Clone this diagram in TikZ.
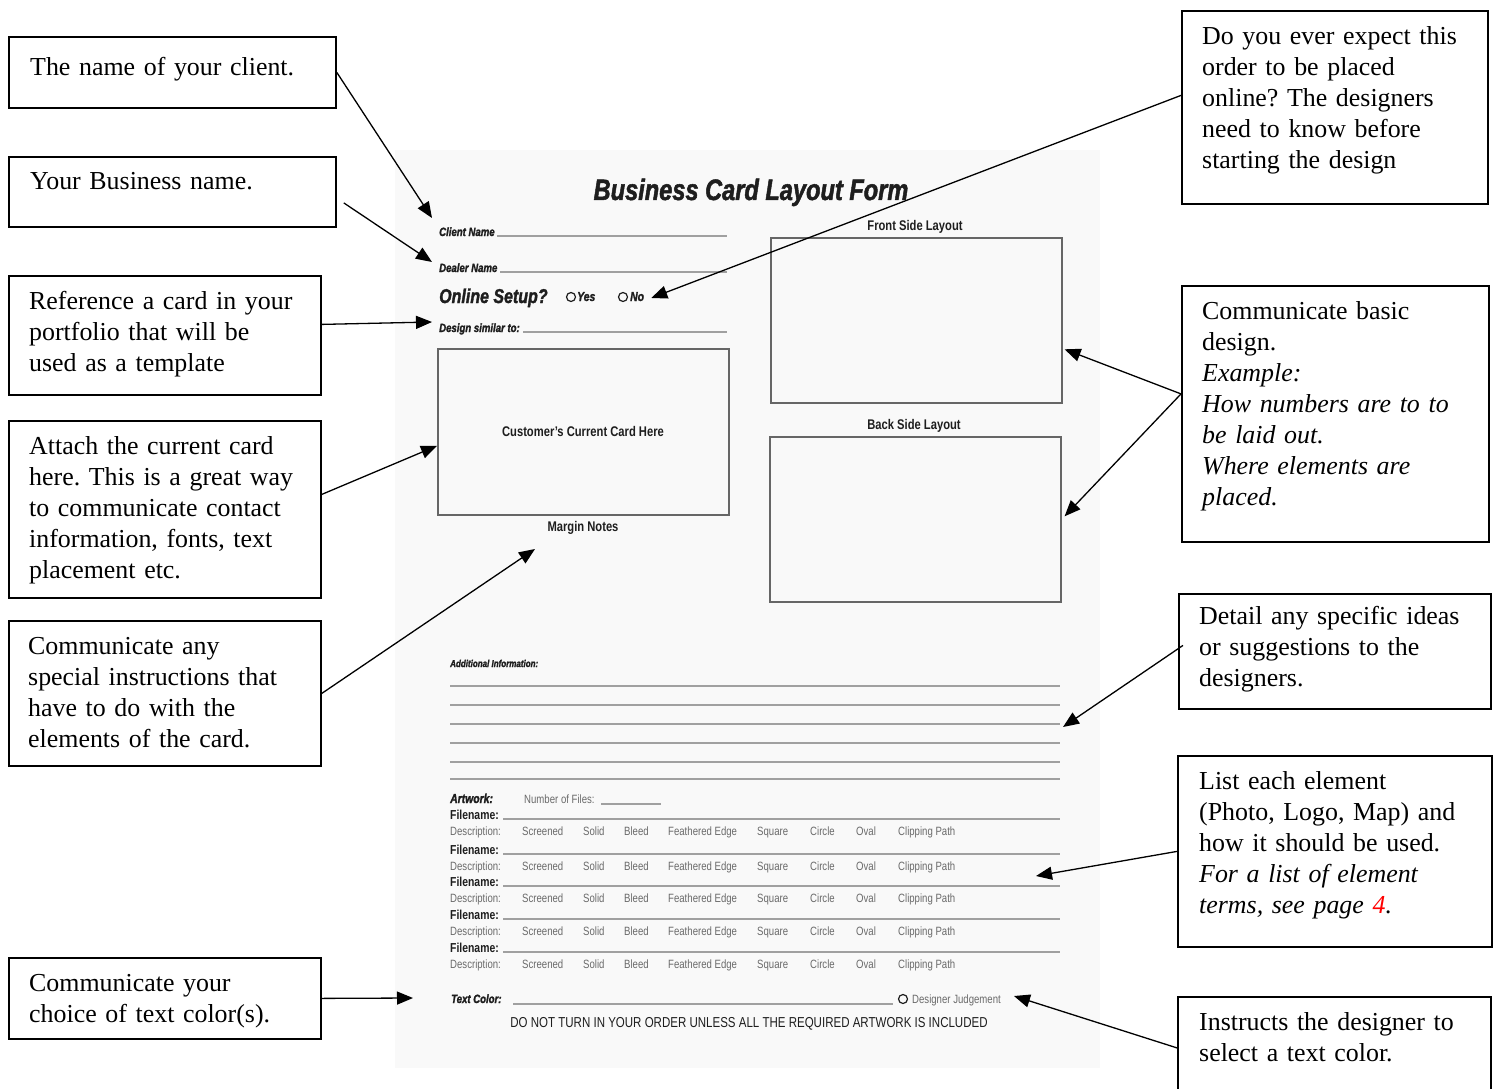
\documentclass[tikz,border=0pt]{standalone}
\usepackage{fontspec}
\setmainfont{Liberation Serif}
\newfontfamily\formfont[FakeStretch=0.8]{Liberation Sans}
\newfontfamily\heavyfont[FakeStretch=0.8,FakeBold=1.6]{Liberation Sans}
\usetikzlibrary{positioning,arrows.meta,calc}
\frenchspacing
\definecolor{formink}{HTML}{1E1E1E}
\definecolor{formgray}{HTML}{6A6A6A}
\definecolor{ruleclr}{HTML}{A0A0A0}
\definecolor{pagebg}{HTML}{F9F9F9}
\tikzset{
  note/.style={draw=black, line width=1.8pt, inner sep=0pt, anchor=north west},
  ntxt/.style={anchor=north west, inner sep=0pt, text width=300pt, align=left, font=\fontsize{25.9}{31}\selectfont},
  fl/.style={-{Triangle[length=16pt, width=13pt]}, line width=1.3pt},
  ftitle/.style={anchor=base, inner sep=0pt, formink, font=\heavyfont\bfseries\itshape\fontsize{29.5}{30}\selectfont},
  fhead/.style={anchor=base, inner sep=0pt, formink, font=\formfont\bfseries\fontsize{14}{15}\selectfont},
  flab/.style={anchor=base west, inner sep=0pt, formink, font=\heavyfont\bfseries\itshape\fontsize{12}{13}\selectfont},
  fname/.style={anchor=base west, inner sep=0pt, formink, font=\formfont\bfseries\fontsize{13}{14}\selectfont},
  fdesc/.style={anchor=base west, inner sep=0pt, formgray, font=\formfont\fontsize{12}{13}\selectfont},
  fbox/.style={draw=gray!80!black, line width=1.6pt, inner sep=0pt, anchor=north west},
  frule/.style={draw=ruleclr, line width=1.3pt},
  radio/.style={circle, draw=formink, line width=1.2pt, inner sep=0pt, minimum size=9pt},
}
\begin{document}
\begin{tikzpicture}[x=1pt, y=-1pt]
\useasboundingbox (0,0) rectangle (1494,1089);
% the form page
\fill[pagebg] (395,150) rectangle (1100,1068);
\node[ftitle] (title) at (751,200) {Business Card Layout Form};
\node[flab] (cname) at (439,236) {Client Name};
\draw[frule] (497,236) -- (727,236);
\node[flab] (dname) at (439,272) {Dealer Name};
\draw[frule] (500,272) -- (727,272);
\node[flab, font=\heavyfont\bfseries\itshape\fontsize{20}{21}\selectfont] (online) at (439,303) {Online Setup?};
\node[radio] (ryes) at (571,297) {};
\node[flab, font=\heavyfont\bfseries\itshape\fontsize{13}{14}\selectfont] (yes) at (577,301) {Yes};
\node[radio] (rno) at (623,297) {};
\node[flab, font=\heavyfont\bfseries\itshape\fontsize{13}{14}\selectfont] (no) at (630,301) {No};
\node[flab] (dsim) at (439,332) {Design similar to:};
\draw[frule] (523,332) -- (727,332);
% card boxes
\node[fbox, minimum width=291, minimum height=166] (card) at (437,348) {};
\node[fhead] (cardtxt) at (583,436) {Customer’s Current Card Here};
\node[fhead] (mnotes) at (583,531) {Margin Notes};
\node[fhead] (fronthd) at (915,230) {Front Side Layout};
\node[fbox, minimum width=291, minimum height=165] (front) at (770,237) {};
\node[fhead] (backhd) at (914,429) {Back Side Layout};
\node[fbox, minimum width=291, minimum height=165] (back) at (769,436) {};
% additional information
\node[flab, font=\heavyfont\bfseries\itshape\fontsize{10}{11}\selectfont] (addinfo) at (450,667) {Additional Information:};
\foreach \y [count=\i] in {686,705,724,743,762,779}
  \draw[frule] (450,\y) -- (1060,\y) coordinate (ai\i);
% artwork
\node[flab, font=\heavyfont\bfseries\itshape\fontsize{13}{14}\selectfont] (artwork) at (450,803) {Artwork:};
\node[fdesc] (nfiles) at (524,803) {Number of Files:};
\draw[frule] (601,804) -- (661,804);
\foreach \y [count=\i] in {819,854,886,919,952} {
  \node[fname] (fn\i) at (450,\y) {Filename:};
  \draw[frule] (503,\y) -- (1060,\y);
  \foreach \w/\x [count=\j] in {Description:/450,Screened/522,Solid/583,Bleed/624,Feathered Edge/668,Square/757,Circle/810,Oval/856,Clipping Path/898}
    \node[fdesc] (ds\i-\j) at (\x,\y+16) {\w};
}
\coordinate (artw) at (1036,876);
% text colour
\node[flab] (tcol) at (451,1003) {Text Color:};
\draw[frule] (513,1004) -- (893,1004);
\node[radio] (rjud) at (903,999) {};
\node[fdesc] (djud) at (912,1003) {Designer Judgement};
\node[fdesc, anchor=base, formink, font=\formfont\fontsize{14.4}{15}\selectfont] (warn) at (749,1027) {DO NOT TURN IN YOUR ORDER UNLESS ALL THE REQUIRED ARTWORK IS INCLUDED};

% left callouts
\node[note, minimum width=327, minimum height=71] (cClient) at (8,36) {};
\node[ntxt] (cClient-t) at ($(cClient.north west)+(22,21)$) {The name of your client.};
\node[note, minimum width=327, minimum height=70] (cBiz) at (8,156) {};
\node[ntxt] (cBiz-t) at ($(cBiz.north west)+(22,16)$) {Your Business name.};
\node[note, minimum width=312, minimum height=119] (cRef) at (8,275) {};
\node[ntxt] (cRef-t) at ($(cRef.north west)+(21,16)$) {Reference a card in your\\ portfolio that will be\\ used as a template};
\node[note, minimum width=312, minimum height=177] (cAttach) at (8,420) {};
\node[ntxt] (cAttach-t) at ($(cAttach.north west)+(21,16)$) {Attach the current card\\ here. This is a great way\\ to communicate contact\\ information, fonts, text\\ placement etc.};
\node[note, minimum width=312, minimum height=145] (cSpecial) at (8,620) {};
\node[ntxt] (cSpecial-t) at ($(cSpecial.north west)+(20,17)$) {Communicate any\\ special instructions that\\ have to do with the\\ elements of the card.};
\node[note, minimum width=312, minimum height=81] (cColor) at (8,957) {};
\node[ntxt] (cColor-t) at ($(cColor.north west)+(21,17)$) {Communicate your\\ choice of text color(s).};

% right callouts
\node[note, minimum width=306, minimum height=193] (cOnline) at (1181,10) {};
\node[ntxt] (cOnline-t) at ($(cOnline.north west)+(21,16)$) {Do you ever expect this\\ order to be placed\\ online? The designers\\ need to know before\\ starting the design};
\node[note, minimum width=307, minimum height=256] (cDesign) at (1181,285) {};
\node[ntxt] (cDesign-t) at ($(cDesign.north west)+(21,16)$) {Communicate basic\\ design.\\ {\itshape Example:\\ How numbers are to to\\ be laid out.\\ Where elements are\\ placed.}};
\node[note, minimum width=312, minimum height=115] (cIdeas) at (1178,593) {};
\node[ntxt] (cIdeas-t) at ($(cIdeas.north west)+(21,13)$) {Detail any specific ideas\\ or suggestions to the\\ designers.};
\node[note, minimum width=314, minimum height=191] (cElem) at (1177,755) {};
\node[ntxt] (cElem-t) at ($(cElem.north west)+(22,16)$) {List each element\\ (Photo, Logo, Map) and\\ how it should be used.\\ {\itshape For a list of element\\ terms, see page \textcolor{red}{4}.}};
\node[note, minimum width=313, minimum height=96] (cJudge) at (1177,996) {};
\node[ntxt] (cJudge-t) at ($(cJudge.north west)+(22,16)$) {Instructs the designer to\\ select a text color.};

% arrows
\draw[fl] (cClient.east) -- ($(cname.base west)+(-7,-18)$);
\draw[fl] ($(cBiz.east)+(7,11)$) -- ($(dname.base west)+(-7,-10)$);
\draw[fl] ($(cRef.east)+(0,-11)$) -- ($(dsim.base west)+(-7,-10)$);
\draw[fl] ($(cAttach.east)+(0,-15)$) -- ($(card.west)+(0,14)$);
\draw[fl] (cSpecial.east) -- ($(mnotes.base)+(-48,18)$);
\draw[fl] (cColor.east) -- ($(tcol.base west)+(-38,-5)$);
\draw[fl] ($(cOnline.west)+(0,-12)$) -- ($(no.base east)+(7,-3)$);
\draw[fl] ($(cDesign.west)+(0,-20)$) -- ($(front.east)+(2,29)$);
\draw[fl] ($(cDesign.west)+(0,-20)$) -- ($(back.east)+(3,-3)$);
\draw[fl] ($(cIdeas.west)+(5,-6)$) -- ($(ai3)+(3,3)$);
\draw[fl] (cElem.west) -- (artw);
\draw[fl] ($(cJudge.west)+(0,3)$) -- ($(djud.base east)+(13,-7)$);
\end{tikzpicture}
\end{document}
